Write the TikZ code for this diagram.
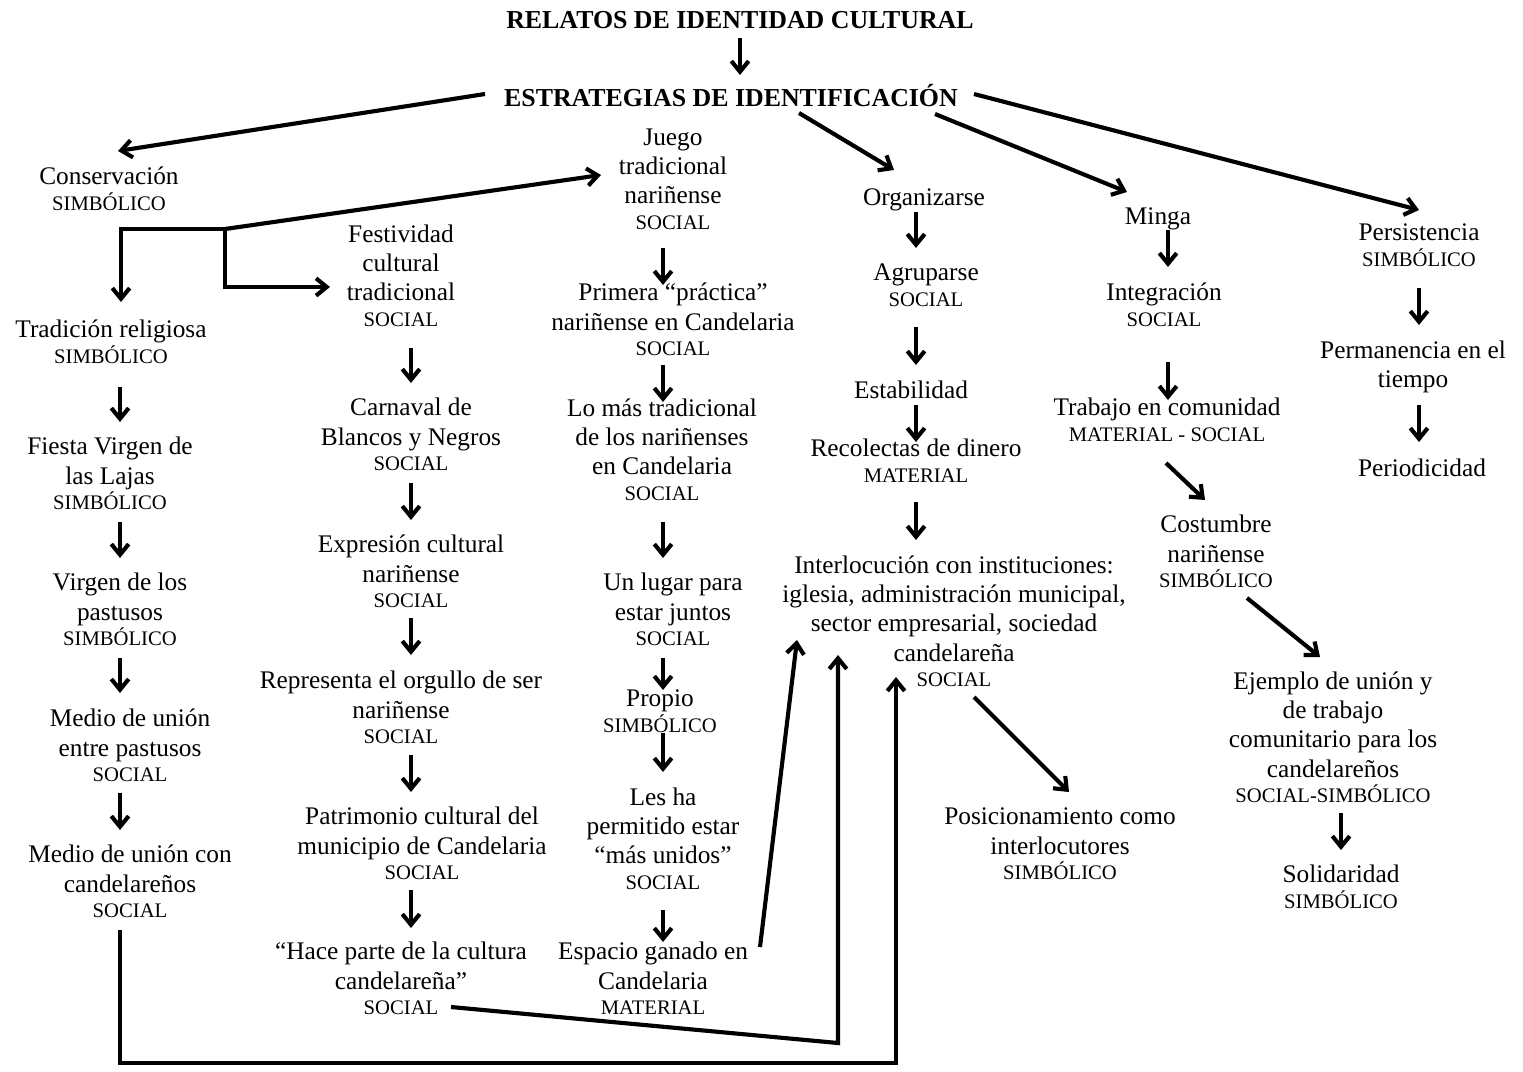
\documentclass[tikz,border=0pt]{standalone}
\usepackage{fontspec}
\setmainfont{Liberation Serif}
\usetikzlibrary{arrows.meta}

% category line set smaller under a node's text
\newcommand\cat[1]{\\[-3.3pt]{\fontsize{15.5}{18}\selectfont #1}}

% every node is anchored at the baseline of its last line
\tikzset{
  lbl/.style={align=center, inner sep=0pt, anchor=base,
              font=\fontsize{19}{22.1}\selectfont},
  ttl/.style={inner sep=0pt, anchor=base,
              font=\bfseries\fontsize{19.4}{22}\selectfont},
  link/.style={line width=3.1pt, line join=miter},
  arr/.style={link, -{Straight Barb[length=8pt,width=13pt]}},
}

\begin{document}
\begin{tikzpicture}[x=0.75pt, y=-0.75pt]
\useasboundingbox (0,0) rectangle (1523,1071);

% ---------- headings ----------
\node[ttl] (t1) at (740,28) {RELATOS DE IDENTIDAD CULTURAL};
\node[ttl] (t2) at (731,106) {ESTRATEGIAS DE IDENTIFICACIÓN};

% ---------- first level ----------
\node[lbl] (cons) at (109,210) {Conservación\cat{SIMBÓLICO}};
\node[lbl] (juego) at (673,229) {Juego\\tradicional\\nariñense\cat{SOCIAL}};
\node[lbl] (org) at (924,205) {Organizarse};
\node[lbl] (minga) at (1158,224) {Minga};
\node[lbl] (pers) at (1419,266) {Persistencia\cat{SIMBÓLICO}};

% ---------- column: tradición religiosa ----------
\node[lbl] (trad) at (111,363) {Tradición religiosa\cat{SIMBÓLICO}};
\node[lbl] (fiesta) at (110,509.5) {Fiesta Virgen de\\las Lajas\cat{SIMBÓLICO}};
\node[lbl] (virgen) at (120,645.5) {Virgen de los\\pastusos\cat{SIMBÓLICO}};
\node[lbl] (medio1) at (130,781.5) {Medio de unión\\entre pastusos\cat{SOCIAL}};
\node[lbl] (medio2) at (130,917.5) {Medio de unión con\\candelareños\cat{SOCIAL}};

% ---------- column: festividad ----------
\node[lbl] (fest) at (401,326) {Festividad\\cultural\\tradicional\cat{SOCIAL}};
\node[lbl] (carn) at (411,470.5) {Carnaval de\\Blancos y Negros\cat{SOCIAL}};
\node[lbl] (expr) at (411,607.5) {Expresión cultural\\nariñense\cat{SOCIAL}};
\node[lbl] (repr) at (401,743.5) {Representa el orgullo de ser\\nariñense\cat{SOCIAL}};
\node[lbl] (patr) at (422,879.5) {Patrimonio cultural del\\municipio de Candelaria\cat{SOCIAL}};
\node[lbl] (hace) at (401,1014.5) {“Hace parte de la cultura\\candelareña”\cat{SOCIAL}};

% ---------- column: juego ----------
\node[lbl] (prim) at (673,355.5) {Primera “práctica”\\nariñense en Candelaria\cat{SOCIAL}};
\node[lbl] (lomas) at (662,500) {Lo más tradicional\\de los nariñenses\\en Candelaria\cat{SOCIAL}};
\node[lbl] (lugar) at (673,645.5) {Un lugar para\\estar juntos\cat{SOCIAL}};
\node[lbl] (propio) at (660,732) {Propio\cat{SIMBÓLICO}};
\node[lbl] (lesha) at (663,889) {Les ha\\permitido estar\\“más unidos”\cat{SOCIAL}};
\node[lbl] (esp) at (653,1014.5) {Espacio ganado en\\Candelaria\cat{MATERIAL}};

% ---------- column: organizarse ----------
\node[lbl] (agr) at (926,306) {Agruparse\cat{SOCIAL}};
\node[lbl] (est) at (911,398) {Estabilidad};
\node[lbl] (rec) at (916,482) {Recolectas de dinero\cat{MATERIAL}};
\node[lbl] (inter) at (954,686.5) {Interlocución con instituciones:\\iglesia, administración municipal,\\sector empresarial, sociedad\\candelareña\cat{SOCIAL}};
\node[lbl] (pos) at (1060,879.5) {Posicionamiento como\\interlocutores\cat{SIMBÓLICO}};

% ---------- column: minga ----------
\node[lbl] (integ) at (1164,326) {Integración\cat{SOCIAL}};
\node[lbl] (trab) at (1167,441) {Trabajo en comunidad\cat{MATERIAL - SOCIAL}};
\node[lbl] (cost) at (1216,587.5) {Costumbre\\nariñense\cat{SIMBÓLICO}};
\node[lbl] (ejem) at (1333,802.5) {Ejemplo de unión y\\de trabajo\\comunitario para los\\candelareños\cat{SOCIAL-SIMBÓLICO}};
\node[lbl] (sol) at (1341,908) {Solidaridad\cat{SIMBÓLICO}};

% ---------- column: persistencia ----------
\node[lbl] (perm) at (1413,387.5) {Permanencia en el\\tiempo};
\node[lbl] (peri) at (1422,476) {Periodicidad};

% ---------- connectors from the headings ----------
\draw[arr] ([shift={(0,10)}]t1.base) -- ([shift={(9,-31)}]t2.base);
\draw[arr] ([shift={(-246,-12)}]t2.base) -- ([shift={(9,-59)}]cons.base);
\draw[arr] ([shift={(68,7)}]t2.base) -- ([shift={(-30,-35)}]org.base);
\draw[arr] ([shift={(204,8)}]t2.base) -- ([shift={(-31,-32)}]minga.base);
\draw[arr] ([shift={(243,-12)}]t2.base) -- ([shift={(0,-56)}]pers.base);

% ---------- branching under Conservación ----------
\coordinate (split) at (121,229);
\coordinate (junc) at (225,229);
\draw[arr] (junc) -- (split) -- ([shift={(10,-61)}]trad.base);
\draw[arr] (junc) -- ([shift={(-72,-54)}]juego.base);
\draw[arr] (junc) |- ([shift={(-71,-39)}]fest.base);

% ---------- column: tradición religiosa ----------
\draw[arr] ([shift={(9,24)}]trad.base) -- ([shift={(10,-87.5)}]fiesta.base);
\draw[arr] ([shift={(10,12.5)}]fiesta.base) -- ([shift={(0,-87.5)}]virgen.base);
\draw[arr] ([shift={(0,12.5)}]virgen.base) -- ([shift={(-10,-88.5)}]medio1.base);
\draw[arr] ([shift={(-10,11.5)}]medio1.base) -- ([shift={(-10,-87.5)}]medio2.base);

% ---------- column: festividad ----------
\draw[arr] ([shift={(10,22)}]fest.base) -- ([shift={(0,-87.5)}]carn.base);
\draw[arr] ([shift={(0,12.5)}]carn.base) -- ([shift={(0,-87.5)}]expr.base);
\draw[arr] ([shift={(0,10.5)}]expr.base) -- ([shift={(10,-88.5)}]repr.base);
\draw[arr] ([shift={(10,11.5)}]repr.base) -- ([shift={(-11,-87.5)}]patr.base);
\draw[arr] ([shift={(-11,10.5)}]patr.base) -- ([shift={(10,-86.5)}]hace.base);

% ---------- column: juego ----------
\draw[arr] ([shift={(-10,19)}]juego.base) -- ([shift={(-10,-70.5)}]prim.base);
\draw[arr] ([shift={(-10,9.5)}]prim.base) -- ([shift={(1,-98)}]lomas.base);
\draw[arr] ([shift={(1,22)}]lomas.base) -- ([shift={(-10,-87.5)}]lugar.base);
\draw[arr] ([shift={(-10,12.5)}]lugar.base) -- ([shift={(3,-42)}]propio.base);
\draw[arr] ([shift={(3,1)}]propio.base) -- ([shift={(0,-117)}]lesha.base);
\draw[arr] ([shift={(0,21)}]lesha.base) -- ([shift={(10,-72.5)}]esp.base);

% ---------- column: organizarse ----------
\draw[arr] ([shift={(-8,7)}]org.base) -- ([shift={(-10,-58)}]agr.base);
\draw[arr] ([shift={(-10,21)}]agr.base) -- ([shift={(5,-33)}]est.base);
\draw[arr] ([shift={(5,7)}]est.base) -- ([shift={(0,-40)}]rec.base);
\draw[arr] ([shift={(0,20)}]rec.base) -- ([shift={(-38,-146.5)}]inter.base);
\draw[arr] ([shift={(20,10.5)}]inter.base) -- ([shift={(9,-87.5)}]pos.base);

% ---------- column: minga ----------
\draw[arr] ([shift={(10,6)}]minga.base) -- ([shift={(4,-59)}]integ.base);
\draw[arr] ([shift={(4,36)}]integ.base) -- ([shift={(1,-41)}]trab.base);
\draw[arr] ([shift={(-1,22)}]trab.base) -- ([shift={(-11,-87.5)}]cost.base);
\draw[arr] ([shift={(31,10.5)}]cost.base) -- ([shift={(-13,-145.5)}]ejem.base);
\draw[arr] ([shift={(8,10.5)}]ejem.base) -- ([shift={(0,-58)}]sol.base);

% ---------- column: persistencia ----------
\draw[arr] ([shift={(0,22)}]pers.base) -- ([shift={(6,-62.5)}]perm.base);
\draw[arr] ([shift={(6,17.5)}]perm.base) -- ([shift={(-3,-34)}]peri.base);

% ---------- links running back up to the interlocución node ----------
\draw[arr] ([shift={(-10,12.5)}]medio2.base) |- ([shift={(-58,376.5)}]inter.base)
           -- ([shift={(-58,-9.5)}]inter.base);
\draw[arr] ([shift={(50,-7.5)}]hace.base) -- ([shift={(-116,356.5)}]inter.base)
           -- ([shift={(-116,-31.5)}]inter.base);
\draw[arr] ([shift={(107,-67.5)}]esp.base) -- ([shift={(-157,-46.5)}]inter.base);

\end{tikzpicture}
\end{document}
